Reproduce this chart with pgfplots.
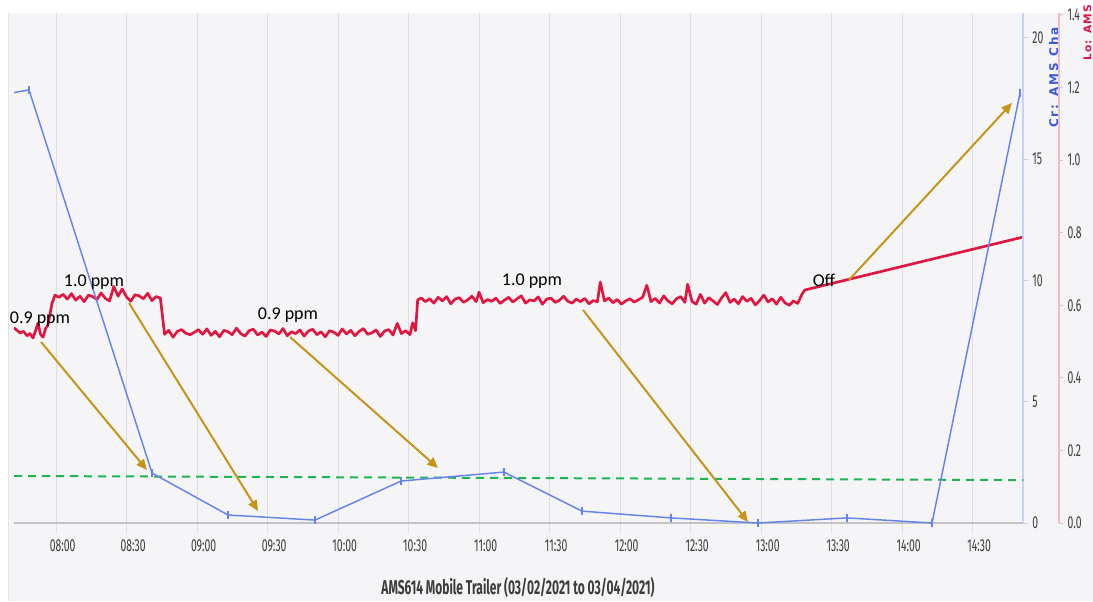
\documentclass[border=0pt]{standalone}
\usepackage{fontspec}
\setmainfont{Carlito}
\newfontfamily\tickfont[FakeStretch=0.6]{Fira Sans}
\newfontfamily\labfont{DejaVu Sans}
\usepackage{pgfplots}
\pgfplotsset{compat=1.18}
\usetikzlibrary{arrows.meta}
\definecolor{bgc}{RGB}{245,245,248}
\definecolor{bordc}{RGB}{228,228,232}
\definecolor{gridc}{RGB}{222,222,226}
\definecolor{axgray}{RGB}{195,195,198}
\definecolor{tickc}{RGB}{60,60,60}
\definecolor{blueline}{RGB}{100,132,236}
\definecolor{blueax}{RGB}{200,210,245}
\definecolor{bluelab}{RGB}{60,90,220}
\definecolor{redline}{RGB}{224,22,64}
\definecolor{redax}{RGB}{242,188,200}
\definecolor{greenl}{RGB}{30,180,80}
\definecolor{gold}{RGB}{198,148,24}
\pgfplotstableread{
x y
7.7021 0.538
7.72 0.532
7.745 0.524
7.77 0.528
7.794 0.516
7.815 0.522
7.837 0.510
7.855 0.530
7.872 0.551
7.89 0.520
7.908 0.512
7.925 0.535
7.943 0.546
7.972 0.606
7.993 0.628
8.02 0.622
8.05 0.630
8.08 0.617
8.11 0.632
8.14 0.614
8.17 0.625
8.20 0.610
8.23 0.628
8.26 0.624
8.29 0.616
8.32 0.634
8.35 0.619
8.38 0.612
8.41 0.652
8.44 0.625
8.47 0.645
8.50 0.623
8.53 0.611
8.56 0.629
8.59 0.626
8.62 0.618
8.65 0.633
8.68 0.613
8.71 0.624
8.74 0.620
8.75 0.587
8.77 0.520
8.80 0.531
8.83 0.512
8.86 0.528
8.89 0.533
8.92 0.523
8.95 0.519
8.98 0.525
9.01 0.533
9.04 0.520
9.07 0.535
9.10 0.517
9.13 0.528
9.16 0.513
9.19 0.531
9.22 0.527
9.25 0.519
9.28 0.537
9.31 0.522
9.34 0.515
9.37 0.530
9.40 0.534
9.43 0.518
9.46 0.526
9.49 0.514
9.52 0.532
9.55 0.529
9.58 0.521
9.61 0.536
9.64 0.516
9.67 0.527
9.70 0.522
9.73 0.532
9.76 0.515
9.79 0.529
9.82 0.534
9.85 0.519
9.88 0.527
9.91 0.513
9.94 0.530
9.97 0.526
10.00 0.517
10.03 0.535
10.06 0.521
10.09 0.531
10.12 0.516
10.15 0.528
10.18 0.536
10.21 0.520
10.24 0.524
10.27 0.532
10.30 0.514
10.33 0.529
10.36 0.533
10.39 0.518
10.42 0.550
10.45 0.522
10.48 0.530
10.51 0.519
10.53 0.552
10.55 0.530
10.565 0.615
10.59 0.620
10.62 0.610
10.65 0.618
10.68 0.606
10.71 0.622
10.74 0.612
10.77 0.624
10.80 0.604
10.83 0.617
10.86 0.621
10.89 0.608
10.92 0.615
10.95 0.625
10.98 0.610
11.00 0.636
11.03 0.607
11.06 0.616
11.09 0.611
11.12 0.620
11.15 0.605
11.18 0.614
11.21 0.622
11.24 0.609
11.27 0.618
11.30 0.626
11.33 0.606
11.36 0.615
11.39 0.612
11.42 0.623
11.45 0.603
11.48 0.617
11.51 0.620
11.54 0.608
11.57 0.614
11.60 0.625
11.63 0.611
11.66 0.606
11.69 0.617
11.72 0.610
11.75 0.619
11.78 0.604
11.81 0.613
11.84 0.610
11.86 0.664
11.89 0.612
11.92 0.620
11.95 0.607
11.98 0.616
12.01 0.603
12.04 0.612
12.07 0.618
12.10 0.609
12.13 0.615
12.16 0.622
12.19 0.655
12.22 0.610
12.25 0.619
12.28 0.606
12.31 0.626
12.34 0.612
12.37 0.604
12.40 0.618
12.43 0.624
12.46 0.608
12.48 0.658
12.51 0.611
12.54 0.603
12.57 0.630
12.60 0.606
12.63 0.621
12.66 0.612
12.69 0.602
12.72 0.620
12.75 0.635
12.78 0.608
12.81 0.617
12.84 0.604
12.87 0.624
12.90 0.611
12.93 0.619
12.96 0.601
12.99 0.613
13.02 0.628
13.05 0.609
13.08 0.618
13.11 0.603
13.14 0.622
13.17 0.607
13.20 0.600
13.23 0.612
13.26 0.605
13.29 0.630
13.31 0.642
14.8582 0.788
}\redtab
\pgfplotstableread{
x y
7.248 17.28
7.8085 17.86
8.681 2.06
9.220 0.33
9.837 0.12
10.447 1.73
11.177 2.10
11.730 0.49
12.362 0.21
12.979 0.00
13.610 0.21
14.213 0.00
14.837 17.73
}\bluetab
\begin{document}
\begin{tikzpicture}
\useasboundingbox (0,0) rectangle (819.75pt,450.75pt);
\fill[bgc] (6pt,0) rectangle (819.75pt,441pt);
\draw[bordc,line width=0.75pt] (6pt,0) -- (6pt,441pt);
% grid and x axis
\begin{axis}[at={(10.5pt,58.5pt)}, anchor=south west, scale only axis,
  width=756.75pt, height=382.5pt,
  xmin=7.7021, xmax=14.8582, ymin=0, ymax=1,
  axis y line=none, axis x line*=bottom,
  x axis line style={-, draw=axgray, line width=1pt},
  xtick={8,8.5,9,9.5,10,10.5,11,11.5,12,12.5,13,13.5,14,14.5},
  xticklabels={08:00,08:30,09:00,09:30,10:00,10:30,11:00,11:30,12:00,12:30,13:00,13:30,14:00,14:30},
  xmajorgrids, grid style={draw=gridc, line width=0.75pt},
  tick align=outside, major tick length=7.5pt,
  xtick style={draw=gridc, line width=0.75pt},
  xticklabel style={font=\tickfont\fontsize{13}{13}\selectfont, text=tickc, xshift=5pt, yshift=-1.5pt},
  ]
\addplot[draw=none] coordinates {(8,0.5)};
\end{axis}
% red axis
\begin{axis}[at={(10.5pt,58.5pt)}, anchor=south west, scale only axis,
  width=783.75pt, height=382.5pt,
  xmin=7.7021, xmax=15.1135, ymin=0, ymax=1.4055,
  axis x line=none, axis y line*=right,
  y axis line style={-, draw=redax, line width=1pt},
  ytick={0,0.2,0.4,0.6,0.8,1.0,1.2,1.4},
  tick align=outside, major tick length=3pt,
  ytick style={draw=redax, line width=0.75pt},
  yticklabel style={font=\tickfont\fontsize{13}{13}\selectfont, text=tickc},
  /pgf/number format/.cd, fixed, fixed zerofill, precision=1, assume math mode=true,
  ]
\addplot[redline, line width=2pt, line join=round] table[x=x,y=y] {\redtab};
\end{axis}
% blue axis
\begin{axis}[at={(10.5pt,58.5pt)}, anchor=south west, scale only axis,
  width=756.75pt, height=382.5pt,
  xmin=7.7021, xmax=14.8582, ymin=0, ymax=21.03,
  axis x line=none, axis y line*=right,
  y axis line style={-, draw=blueax, line width=1pt},
  ytick={0,5,10,15,20},
  tick align=outside, major tick length=3.5pt,
  ytick style={draw=blueax, line width=0.75pt},
  yticklabel style={font=\tickfont\fontsize{13}{13}\selectfont, text=tickc},
  /pgf/number format/assume math mode=true,
  clip mode=individual,
  ]
\addplot[greenl, line width=1.5pt, dash pattern=on 6pt off 4.5pt] coordinates {(7.7021,1.94) (14.8582,1.77)};
\addplot[blueline, line width=1.1pt, mark=|, mark size=3pt, mark options={line width=2pt}] table[x=x,y=y] {\bluetab};
\begin{scope}[gold, line width=1.5pt, -{Triangle[length=8pt,width=7pt]}]
\draw (axis cs:7.894,7.464) -- (axis cs:8.645,2.186);
\draw (axis cs:8.518,9.072) -- (axis cs:9.433,0.495);
\draw (axis cs:9.660,7.670) -- (axis cs:10.709,2.268);
\draw (axis cs:11.738,8.784) -- (axis cs:12.908,0.041);
\draw (axis cs:13.624,10.021) -- (axis cs:14.780,17.320);
\end{scope}
\begin{scope}[every node/.style={anchor=base, font=\fontsize{13.5}{13.5}\selectfont, text=black, inner sep=0pt}]
\node at (axis cs:7.8865,8.247) {0.9 ppm};
\node at (axis cs:8.2695,9.732) {1.0 ppm};
\node at (axis cs:9.6454,8.371) {0.9 ppm};
\node at (axis cs:11.3759,9.773) {1.0 ppm};
\node at (axis cs:13.4468,9.732) {Off};
\end{scope}
\end{axis}
\node[rotate=90, anchor=base west, inner sep=0pt, text=bluelab, font=\labfont\bfseries\fontsize{9}{9}\selectfont\addfontfeature{LetterSpace=16}] at (793.5pt,354.75pt) {Cr: AMS Cha};
\node[rotate=90, anchor=base west, inner sep=0pt, text=redline, font=\labfont\bfseries\fontsize{8}{8}\selectfont\addfontfeature{LetterSpace=10}] at (818.5pt,405pt) {Lo: AMS};
\node[anchor=base, font=\tickfont\bfseries\fontsize{15}{15}\selectfont, text=tickc] at (388.5pt,5.25pt) {AMS614 Mobile Trailer (03/02/2021 to 03/04/2021)};
\end{tikzpicture}
\end{document}
